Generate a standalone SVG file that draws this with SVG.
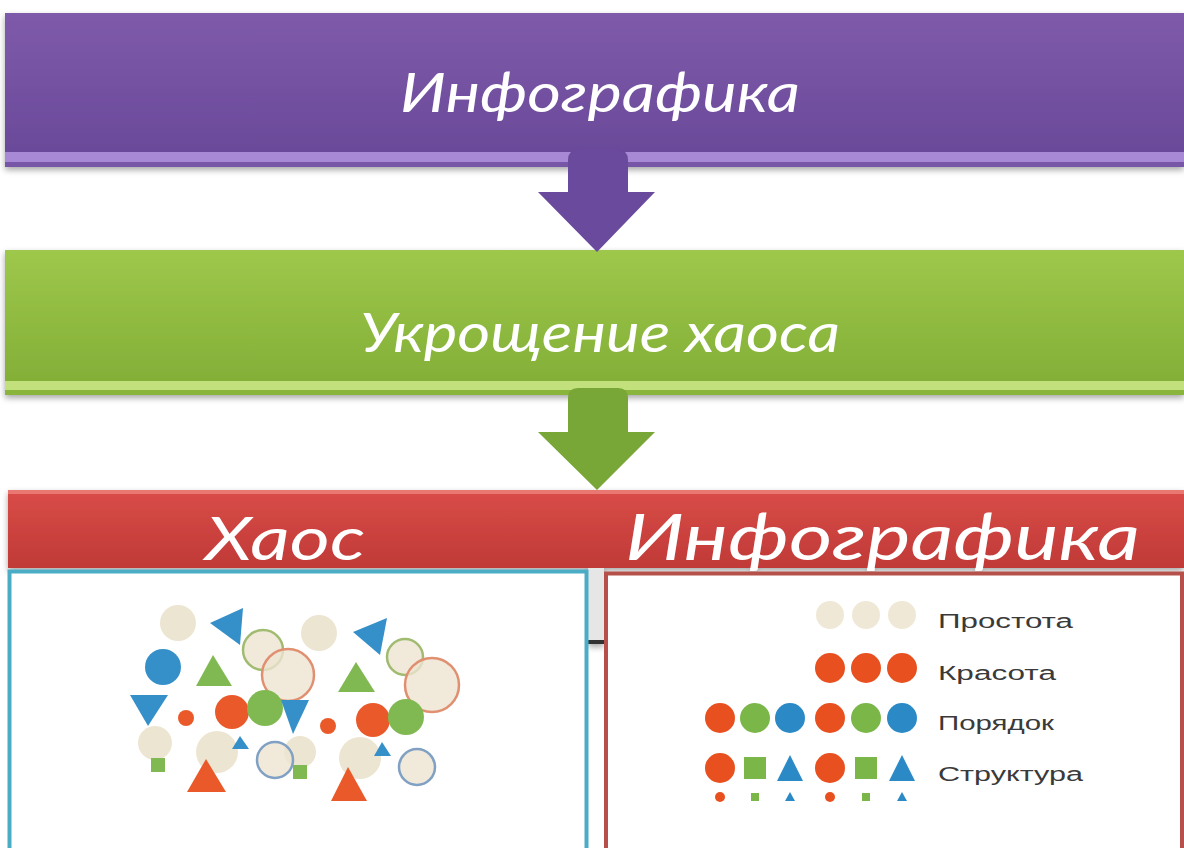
<svg xmlns="http://www.w3.org/2000/svg" width="1184" height="848" viewBox="0 0 1184 848">
<defs>
<linearGradient id="gPurple" x1="0" y1="0" x2="0" y2="1"><stop offset="0" stop-color="#7f5aaa"/><stop offset="1" stop-color="#684898"/></linearGradient>
<linearGradient id="gGreen" x1="0" y1="0" x2="0" y2="1"><stop offset="0" stop-color="#9dc84b"/><stop offset="1" stop-color="#82ad36"/></linearGradient>
<linearGradient id="gRed" x1="0" y1="0" x2="0" y2="1"><stop offset="0" stop-color="#d94c48"/><stop offset="1" stop-color="#c03a37"/></linearGradient>
<filter id="sh" x="-5%" y="-20%" width="110%" height="150%"><feGaussianBlur in="SourceAlpha" stdDeviation="3"/><feOffset dy="3"/><feComponentTransfer><feFuncA type="linear" slope="0.35"/></feComponentTransfer><feMerge><feMergeNode/><feMergeNode in="SourceGraphic"/></feMerge></filter>
</defs>
<style>
.title{font-family:"Lato","Open Sans",sans-serif;font-style:italic;fill:#ffffff;text-anchor:start}
.leg{font-family:"Liberation Sans","DejaVu Sans",sans-serif;font-size:20px;fill:#3a3a3a}
.bg{fill:#ece4cf}
.or{fill:#e8511f}
.gr{fill:#7ab648}
.bl{fill:#2b8ac6}
</style>
<rect width="1184" height="848" fill="#ffffff"/>

<g id="node-infographics-top" filter="url(#sh)">
<rect x="5" y="13" width="1179" height="154" fill="url(#gPurple)"/>
<rect x="5" y="152" width="1179" height="10" fill="#a889d6"/>
<rect x="5" y="162" width="1179" height="5" fill="#7757a8"/>
<text class="title" x="400" y="112" font-size="54" textLength="400" lengthAdjust="spacingAndGlyphs">Инфографика</text>
</g>

<g id="node-taming" filter="url(#sh)">
<rect x="5" y="250" width="1179" height="145" fill="url(#gGreen)"/>
<rect x="5" y="381" width="1179" height="9" fill="#c2e07c"/>
<rect x="5" y="390" width="1179" height="5" fill="#8ab53c"/>
<text class="title" x="360" y="352" font-size="54" textLength="480" lengthAdjust="spacingAndGlyphs">Укрощение хаоса</text>
</g>

<g id="connectors">
<path d="M568,160 Q568,150 578,150 L618,150 Q628,150 628,160 L628,192 L655,192 L597,252 L538,192 L568,192 Z" fill="#6a4a9c"/>
<path d="M568,398 Q568,388 578,388 L618,388 Q628,388 628,398 L628,432 L655,432 L597,490 L538,432 L568,432 Z" fill="#78a637"/>
</g>

<g id="node-header" filter="url(#sh)">
<rect x="8" y="490" width="1176" height="78" fill="url(#gRed)"/>
<rect x="8" y="490" width="1176" height="4" fill="#e97873"/>
<rect x="588" y="568" width="16" height="75" fill="#e6e6e6"/>
<rect x="588" y="640" width="16" height="4" fill="#333333"/>
<text class="title" x="205" y="560" font-size="60" textLength="160" lengthAdjust="spacingAndGlyphs">Хаос</text>
<text class="title" x="625" y="560" font-size="64" textLength="515" lengthAdjust="spacingAndGlyphs">Инфографика</text>
</g>

<g id="node-chaos">
<rect x="9.5" y="571.5" width="577" height="280" fill="#ffffff" stroke="#4bacc6" stroke-width="4"/>
<g opacity="0.95">
<circle class="bg" cx="178" cy="623" r="18"/>
<polygon class="bl" points="210,623 243,608 240,645"/>
<circle class="bg" cx="319" cy="633" r="18"/>
<polygon class="bl" points="353,632 387,618 380,655"/>
<circle cx="263" cy="650" r="20" fill="#ece4cf" fill-opacity="0.8" stroke="#9cb86a" stroke-width="2.5"/>
<circle cx="288" cy="675" r="26" fill="#ece4cf" fill-opacity="0.8" stroke="#e08a6a" stroke-width="2.5"/>
<circle cx="405" cy="657" r="18" fill="#ece4cf" fill-opacity="0.8" stroke="#9cb86a" stroke-width="2.5"/>
<circle cx="432" cy="685" r="27" fill="#ece4cf" fill-opacity="0.8" stroke="#e08a6a" stroke-width="2.5"/>
<circle class="bl" cx="163" cy="667" r="18"/>
<polygon class="gr" points="213,655 196,686 232,686"/>
<polygon class="gr" points="356,662 338,692 375,692"/>
<polygon class="bl" points="130,695 168,695 148,726"/>
<circle class="or" cx="186" cy="718" r="8"/>
<circle class="bg" cx="155" cy="743" r="17"/>
<circle class="bg" cx="217" cy="752" r="21"/>
<circle class="bg" cx="300" cy="752" r="16"/>
<circle class="bg" cx="360" cy="758" r="21"/>
<circle class="or" cx="232" cy="712" r="17"/>
<circle class="gr" cx="265" cy="708" r="18"/>
<polygon class="bl" points="281,700 309,700 293,734"/>
<circle class="or" cx="328" cy="726" r="8"/>
<circle class="or" cx="373" cy="720" r="17"/>
<circle class="gr" cx="406" cy="717" r="18"/>
<rect class="gr" x="151" y="758" width="14" height="14"/>
<polygon class="bl" points="240,736 232,749 249,749"/>
<polygon class="or" points="206,759 187,792 226,792"/>
<circle cx="275" cy="760" r="18" fill="#ece4cf" fill-opacity="0.8" stroke="#7a9cc0" stroke-width="2.5"/>
<rect class="gr" x="293" y="765" width="14" height="14"/>
<polygon class="bl" points="382,742 374,756 391,756"/>
<polygon class="or" points="348,767 331,801 367,801"/>
<circle cx="417" cy="767" r="18" fill="#ece4cf" fill-opacity="0.8" stroke="#7a9cc0" stroke-width="2.5"/>
</g>
</g>

<g id="node-infographics">
<rect x="606" y="573.5" width="576" height="280" fill="#ffffff" stroke="#b5504b" stroke-width="4"/>
<circle class="bg" cx="830" cy="615" r="14" opacity="0.85"/>
<circle class="bg" cx="866" cy="615" r="14" opacity="0.85"/>
<circle class="bg" cx="902" cy="615" r="14" opacity="0.85"/>
<text class="leg" x="938" y="628" textLength="135" lengthAdjust="spacingAndGlyphs">Простота</text>
<circle class="or" cx="830" cy="668" r="15"/>
<circle class="or" cx="866" cy="668" r="15"/>
<circle class="or" cx="902" cy="668" r="15"/>
<text class="leg" x="938" y="680" textLength="118" lengthAdjust="spacingAndGlyphs">Красота</text>
<circle class="or" cx="720" cy="718" r="15"/>
<circle class="gr" cx="755" cy="718" r="15"/>
<circle class="bl" cx="790" cy="718" r="15"/>
<circle class="or" cx="830" cy="718" r="15"/>
<circle class="gr" cx="866" cy="718" r="15"/>
<circle class="bl" cx="902" cy="718" r="15"/>
<text class="leg" x="938" y="730" textLength="116" lengthAdjust="spacingAndGlyphs">Порядок</text>
<circle class="or" cx="720" cy="768" r="15"/>
<rect class="gr" x="744" y="757" width="22" height="22"/>
<polygon class="bl" points="790,755 777,781 803,781"/>
<circle class="or" cx="830" cy="768" r="15"/>
<rect class="gr" x="855" y="757" width="22" height="22"/>
<polygon class="bl" points="902,755 889,781 915,781"/>
<text class="leg" x="938" y="781" textLength="145" lengthAdjust="spacingAndGlyphs">Структура</text>
<circle class="or" cx="720" cy="797" r="5"/>
<rect class="gr" x="751" y="793" width="8" height="8"/>
<polygon class="bl" points="790,792 785,801 795,801"/>
<circle class="or" cx="830" cy="797" r="5"/>
<rect class="gr" x="862" y="793" width="8" height="8"/>
<polygon class="bl" points="902,792 897,801 907,801"/>
</g>
</svg>
